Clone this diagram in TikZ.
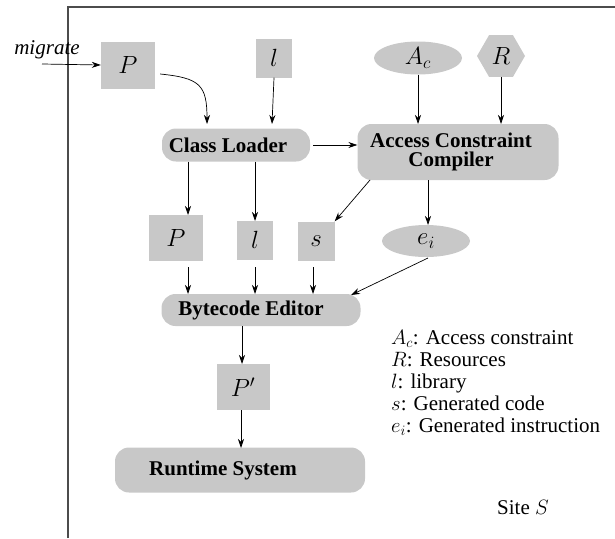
\documentclass[tikz,border=0pt]{standalone}
\usepackage{fontspec}
\setmainfont{Liberation Serif}
\usetikzlibrary{shapes.geometric,arrows.meta}
\begin{document}
\begin{tikzpicture}[x=1pt,y=-1pt,
  gbox/.style={fill=boxgray,draw=none,inner sep=0pt,font=\fontsize{24}{26}\selectfont},
  sqbox/.style={gbox,rectangle},
  rbox/.style={gbox,rectangle,rounded corners=14pt,font=\fontsize{21}{19}\selectfont\bfseries,align=center},
  ebox/.style={gbox,ellipse},
  arr/.style={-{Stealth[length=9pt,width=6pt]},line width=0.7pt},
  legend/.style={font=\fontsize{21}{22}\selectfont,align=left,anchor=north west,inner sep=0pt}]
\definecolor{boxgray}{RGB}{200,200,200}
\useasboundingbox (0,0) rectangle (615,538);
% frame
\draw[line width=1.3pt,draw=black!70] (68,538) -- (68,7) -- (615,7);
% nodes
\node[sqbox,minimum width=54pt,minimum height=47pt] (P1) at (128,65) {$P$};
\node[sqbox,minimum width=36pt,minimum height=39pt] (l1) at (274,58) {$l$};
\node[ebox,minimum width=88pt,minimum height=33pt] (Ac) at (418,58) {$A_c$};
\node[gbox,regular polygon,regular polygon sides=6,minimum size=48pt] (R) at (501,56) {$R$};
\node[rbox,minimum width=148pt,minimum height=33pt] (CL) at (236,145) {Class Loader\hspace*{16pt}};
\node[rbox,minimum width=201pt,minimum height=56pt] (ACC) at (458,152) {Access Constraint\hspace*{14pt}\\Compiler\hspace*{14pt}};
\node[sqbox,minimum width=54pt,minimum height=46pt] (P2) at (176,238) {$P$};
\node[sqbox,minimum width=36pt,minimum height=39pt] (l2) at (255,240) {$l$};
\node[sqbox,minimum width=37pt,minimum height=39pt] (s) at (316,241) {$s$};
\node[ebox,minimum width=88pt,minimum height=32pt] (ei) at (426,241) {$e_i$};
\node[rbox,minimum width=199pt,minimum height=32pt] (BE) at (261,310) {Bytecode Editor\hspace*{20pt}};
\node[sqbox,minimum width=53pt,minimum height=46pt] (P3) at (243,387) {$P'$};
\node[rbox,minimum width=250pt,minimum height=45pt] (RS) at (240,470) {Runtime System\hspace*{34pt}};
\node[font=\fontsize{21}{21}\selectfont\itshape,inner sep=0pt] (mig) at (47,50) {migrate};
\coordinate (migstart) at (42,64);
% legend
\node[legend] (leg) at (391,330) {$A_c$: Access constraint\\
$R$: Resources\\
$l$: library\\
$s$: Generated code\\
$e_i$: Generated instruction};
\node[font=\fontsize{21}{21}\selectfont,anchor=west,inner sep=0pt] (site) at (497,508) {Site $S$};
% connectors
\draw[arr] (migstart) -- (P1.west);
\draw[arr] (P1.east |- 0,74) ++(5,0) coordinate (pa) .. controls (200,78) and (207,85) .. (207,124);
\draw[arr] (l1.south) -- (272,124);
\draw[arr] (CL.east) ++(3,0) -- (ACC.west |- CL.east);
\draw[arr] (Ac.south) -- (Ac.south |- 0,124);
\draw[arr] (R.south) -- (R.south |- 0,124);
\draw[arr] (CL.south -| 188,0) -- (188,215);
\draw[arr] (CL.south -| 255,0) -- (255,221);
\draw[arr] (370,180) -- (s.north east);
\draw[arr] (ACC.south -| 428,0) -- (428,225);
\draw[arr] (188,267) -- (188,294);
\draw[arr] (255,267) -- (255,294);
\draw[arr] (313,267) -- (313,294);
\draw[arr] (428,258) -- (351,295);
\draw[arr] (BE.south -| 242,0) -- (242,364);
\draw[arr] (P3.south -| 241,0) -- (241,448);
\end{tikzpicture}
\end{document}
